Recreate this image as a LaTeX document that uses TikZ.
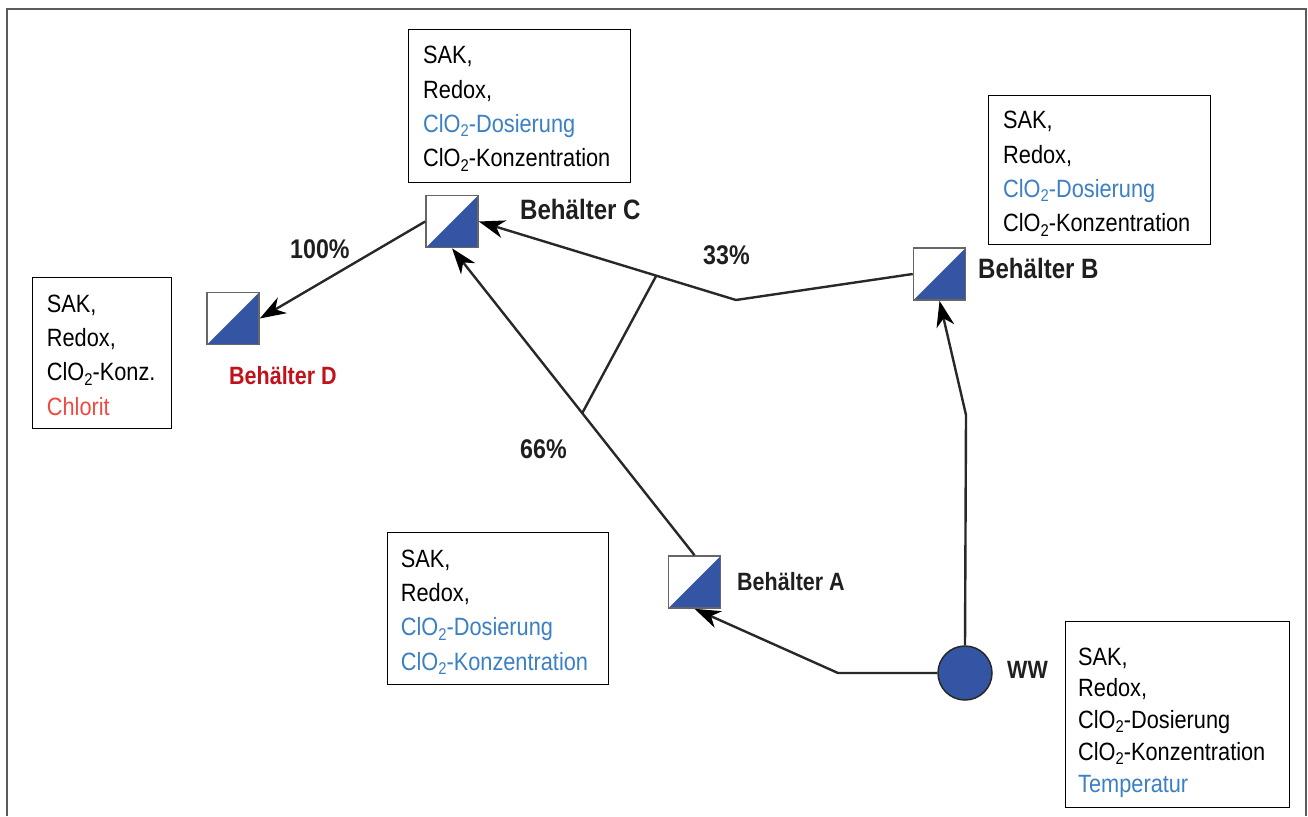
\documentclass[tikz,border=0pt]{standalone}
\usepackage{fontspec}
\setmainfont{Liberation Sans}[FakeStretch=0.87]
\newfontfamily\lblfont{Liberation Sans}[FakeStretch=0.86]
\usetikzlibrary{arrows.meta}
\definecolor{sqblue}{RGB}{52,84,164}
\definecolor{txtblue}{RGB}{59,127,196}
\definecolor{lightred}{RGB}{238,74,68}
\definecolor{darkred}{RGB}{193,18,28}
\definecolor{lineg}{RGB}{40,40,40}
\definecolor{frameg}{RGB}{90,90,90}
\newcommand{\cloII}{ClO\raisebox{-0.32ex}{\fontsize{17}{17}\selectfont 2}}
\begin{document}
\begin{tikzpicture}[x=1pt,y=-1pt,
  infobox/.style={draw=black, line width=1.3pt, anchor=north west, inner sep=0pt},
  infotext/.style={anchor=north west, inner sep=0pt, align=left, font=\fontsize{25}{34.4}\selectfont},
  tank/.style={minimum size=52pt, inner sep=0pt, draw=gray!80!black, line width=1.6pt, fill=white,
    path picture={\fill[sqblue] (path picture bounding box.south west) -- (path picture bounding box.north east) -- (path picture bounding box.south east) -- cycle;}},
  lbl/.style={anchor=base west, inner sep=0pt, font=\lblfont\bfseries\fontsize{25}{25}\selectfont, text=black!88},
  biglbl/.style={lbl, font=\lblfont\bfseries\fontsize{28}{28}\selectfont},
  pct/.style={lbl, font=\lblfont\bfseries\fontsize{27}{27}\selectfont},
  conn/.style={draw=lineg, line width=2.4pt, line join=round},
  arr/.style={conn, -{Stealth[length=26pt, width=18pt, inset=8pt, color=black]}}
]
\useasboundingbox (0,0) rectangle (1308,816);
\draw[frameg, line width=2pt] (7,816) -- (7,9) -- (1306,9) -- (1306,816);

% info boxes
\node[infobox, minimum width=222pt, minimum height=153pt] (bC) at (408,29) {};
\node[infotext] (tC) at (423,46) {SAK,\\Redox,\\\textcolor{txtblue}{\cloII-Dosierung}\\\cloII-Konzentration};
\node[infobox, minimum width=222pt, minimum height=149pt] (bB) at (988,95) {};
\node[infotext] (tB) at (1003,111) {SAK,\\Redox,\\\textcolor{txtblue}{\cloII-Dosierung}\\\cloII-Konzentration};
\node[infobox, minimum width=139pt, minimum height=151pt] (bD) at (32,277) {};
\node[infotext] (tD) at (46.7,294.5) {SAK,\\Redox,\\\cloII-Konz.\\\textcolor{lightred}{Chlorit}};
\node[infobox, minimum width=221pt, minimum height=152pt] (bA) at (387,532) {};
\node[infotext] (tA) at (400.7,549.5) {SAK,\\Redox,\\\textcolor{txtblue}{\cloII-Dosierung}\\\textcolor{txtblue}{\cloII-Konzentration}};
\node[infobox, minimum width=224pt, minimum height=186pt] (bW) at (1065,621) {};
\node[infotext, font=\fontsize{25}{31.8}\selectfont] (tW) at (1078,647.5) {SAK,\\Redox,\\\cloII-Dosierung\\\cloII-Konzentration\\\textcolor{txtblue}{Temperatur}};

% tanks
\node[tank] (sC) at (452,221.5) {};
\node[tank] (sB) at (939.5,274) {};
\node[tank] (sD) at (233,318.5) {};
\node[tank] (sA) at (694.5,582) {};
\node[circle, minimum size=54pt, inner sep=0pt, fill=sqblue, draw=lineg, line width=1.5pt] (ww) at (965,673) {};

% labels
\node[biglbl] (lC) at (520,219) {Behälter C};
\node[biglbl] (lB) at (978,278) {Behälter B};
\node[lbl, text=darkred] (lD) at (229,384) {Behälter D};
\node[lbl] (lA) at (737,590) {Behälter A};
\node[lbl] (lW) at (1007,678) {WW};
\node[pct] (p100) at (290,258) {100\%};
\node[pct] (p33) at (703,264) {33\%};
\node[pct] (p66) at (520,458) {66\%};

% bend coordinates
\coordinate (bBC) at (736,300);
\coordinate (bWB) at (966,415);
\coordinate (bWA) at (838,673);

% connectors
\draw[arr] (sC.west) -- (sD.east);
\draw[arr] (sB.west) -- (bBC) -- (sC.east);
\draw[arr] (sA.north) -- (sC.south);
\draw[arr] (ww.north) -- (bWB) -- (sB.south);
\draw[arr] (ww.west) -- (bWA) -- (sA.south);
\path (bBC) -- (sC.east) coordinate[pos=0.31] (x1);
\path (sA.north) -- (sC.south) coordinate[pos=0.463] (x2);
\draw[conn] (x1) -- (x2);
\end{tikzpicture}
\end{document}
